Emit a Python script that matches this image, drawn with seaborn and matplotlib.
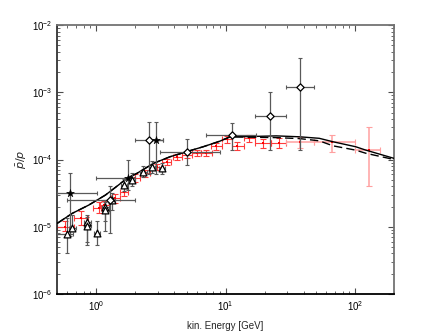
import matplotlib
matplotlib.use("Agg")
import matplotlib.pyplot as plt
import numpy as np
import seaborn as sns

# model curves
model_E = [0.5, 0.654, 0.877, 1.18, 1.49, 1.73, 2.07, 2.77, 3.72, 5.0, 6.71, 9.05,
           10.8, 15.3, 24.6, 37.2, 52.8, 67.4, 101, 121, 200]
solid_v = [1.12e-5, 1.58e-5, 2.1e-5, 2.96e-5, 4.18e-5, 5.25e-5, 6.24e-5, 8.77e-5, 1.1e-4,
           1.31e-4, 1.55e-4, 1.88e-4, 2.18e-4, 2.2e-4, 2.25e-4, 2.18e-4, 2.07e-4, 1.84e-4,
           1.55e-4, 1.38e-4, 1.04e-4]
dashed_v = [1.12e-5, 1.58e-5, 2.1e-5, 2.96e-5, 4.18e-5, 5.25e-5, 6.24e-5, 8.77e-5, 1.1e-4,
            1.31e-4, 1.55e-4, 1.88e-4, 2.18e-4, 2.15e-4, 2.12e-4, 2.05e-4, 1.9e-4, 1.6e-4,
            1.38e-4, 1.24e-4, 1.0e-4]

# red data set
red_E = [0.58, 0.76, 1.05, 1.15, 1.41, 1.63, 2.0, 2.39, 2.94, 3.52, 4.2, 5.0, 6.0, 7.1,
         8.4, 10.2, 12.3, 15.2, 19.3, 25.8, 37.7, 66.5, 129]
red_v = [1.0e-5, 1.34e-5, 1.9e-5, 2.1e-5, 2.65e-5, 3.3e-5, 5.25e-5, 6.2e-5, 7.8e-5, 9.3e-5,
         1.08e-4, 1.18e-4, 1.24e-4, 1.24e-4, 1.58e-4, 2.0e-4, 1.6e-4, 2.07e-4, 1.75e-4,
         1.75e-4, 1.83e-4, 1.8e-4, 1.37e-4]
red_Elo = [0.50, 0.68, 0.95, 1.08, 1.30, 1.52, 1.85, 2.2, 2.7, 3.25, 3.9, 4.6, 5.5, 6.5,
           7.7, 9.3, 11.2, 13.8, 17.0, 22.5, 29, 48, 99]
red_Ehi = [0.68, 0.86, 1.10, 1.25, 1.52, 1.75, 2.2, 2.6, 3.2, 3.8, 4.6, 5.5, 6.5, 7.8,
           9.3, 11.2, 13.8, 17.0, 22.5, 29, 48, 99, 155]
red_vlo = [0.85e-5, 1.06e-5, 1.6e-5, 1.8e-5, 2.25e-5, 2.85e-5, 4.6e-5, 5.5e-5, 7.0e-5, 8.4e-5,
           9.7e-5, 1.06e-4, 1.11e-4, 1.11e-4, 1.4e-4, 1.77e-4, 1.4e-4, 1.82e-4, 1.5e-4,
           1.48e-4, 1.5e-4, 1.31e-4, 4.0e-5]
red_vhi = [1.2e-5, 1.7e-5, 2.3e-5, 2.45e-5, 3.1e-5, 3.85e-5, 6.0e-5, 7.0e-5, 8.7e-5, 1.03e-4,
           1.2e-4, 1.31e-4, 1.38e-4, 1.38e-4, 1.78e-4, 2.25e-4, 1.82e-4, 2.34e-4, 2.03e-4,
           2.06e-4, 2.2e-4, 2.31e-4, 3.1e-4]

# triangles
tri_E = [0.598, 0.654, 0.853, 0.853, 1.02, 1.18, 1.18, 1.33, 1.63, 1.9, 2.32, 2.7, 3.22]
tri_v = [7.8e-6, 9.5e-6, 1.17e-5, 1.02e-5, 8.2e-6, 2.0e-5, 1.8e-5, 2.5e-5, 4.2e-5, 4.95e-5,
         6.6e-5, 7.8e-5, 7.4e-5]
tri_Elo = [0.5, 0.62, 0.80, 0.80, 0.97, 1.12, 1.12, 1.27, 1.55, 1.8, 2.2, 2.55, 3.05]
tri_Ehi = [0.66, 0.70, 0.92, 0.92, 1.08, 1.25, 1.25, 1.40, 1.72, 2.0, 2.45, 2.85, 3.4]
tri_vlo = [4.1e-6, 8.5e-6, 5.3e-6, 6.0e-6, 5.3e-6, 8.5e-6, 1.2e-5, 1.8e-5, 3.4e-5, 4.0e-5,
           5.5e-5, 6.4e-5, 6.0e-5]
tri_vhi = [1.35e-5, 1.5e-5, 1.5e-5, 1.4e-5, 1.2e-5, 2.35e-5, 2.5e-5, 3.2e-5, 5.2e-5, 6.2e-5,
           8.0e-5, 9.5e-5, 9.0e-5]

# diamonds
dia_E = [1.29, 2.58, 5.0, 11.1, 22.2, 37.3]
dia_v = [2.5e-5, 1.95e-4, 1.3e-4, 2.31e-4, 4.43e-4, 1.21e-3]
dia_Elo = [0.6, 2.0, 3.1, 7.1, 16.8, 29]
dia_Ehi = [2.0, 3.3, 9.0, 17.3, 29, 48]
dia_vlo = [8e-6, 6e-5, 8.3e-5, 1.4e-4, 1.4e-4, 1.4e-4]
dia_vhi = [4e-5, 3.6e-4, 2.0e-4, 3.5e-4, 1.0e-3, 3.2e-3]

# stars
star_E = [0.624, 1.75, 2.91]
star_v = [3.14e-5, 5.3e-5, 1.95e-4]
star_Elo = [0.5, 1.0, 2.6]
star_Ehi = [1.02, 2.0, 3.3]
star_vlo = [7.2e-6, 3.5e-5, 6e-5]
star_vhi = [6.4e-5, 1.0e-4, 3.6e-4]

sns.set_style("ticks")
plt.rcParams["font.family"] = ["Liberation Sans", "DejaVu Sans"]
plt.rcParams["font.size"] = 7
plt.rcParams["mathtext.fontset"] = "dejavusans"

fig = plt.figure(figsize=(4.36, 3.31), dpi=100)
ax = fig.add_axes([0.131, 0.112, 0.773, 0.812])
ax.set_xscale("log")
ax.set_yscale("log")


def errs(x, lo, hi):
    x = np.array(x)
    return np.array([x - np.array(lo), np.array(hi) - x])


# red data (last points drawn lighter)
red_xerr = errs(red_E, red_Elo, red_Ehi)
red_yerr = errs(red_v, red_vlo, red_vhi)
k = len(red_E) - 3
ax.errorbar(red_E[:k], red_v[:k], xerr=red_xerr[:, :k], yerr=red_yerr[:, :k],
            fmt="none", ecolor="#ff3b3b", elinewidth=0.8, capsize=2, capthick=0.8, zorder=2)
ax.errorbar(red_E[k:], red_v[k:], xerr=red_xerr[:, k:], yerr=red_yerr[:, k:],
            fmt="none", ecolor="#ffa0a0", elinewidth=1.1, capsize=2, capthick=0.8, zorder=2)
sns.scatterplot(x=red_E, y=red_v, ax=ax, color="red", marker="s", s=3, linewidth=0, zorder=3)

# model lines
sns.lineplot(x=model_E, y=solid_v, ax=ax, color="black", linewidth=1.0, zorder=4)
sns.lineplot(x=model_E, y=dashed_v, ax=ax, color="black", linewidth=1.0, zorder=4,
             linestyle=(0, (6, 3)))

# black data sets
for E, v, elo, ehi, vlo, vhi in [
    (tri_E, tri_v, tri_Elo, tri_Ehi, tri_vlo, tri_vhi),
    (dia_E, dia_v, dia_Elo, dia_Ehi, dia_vlo, dia_vhi),
    (star_E, star_v, star_Elo, star_Ehi, star_vlo, star_vhi),
]:
    ax.errorbar(E, v, xerr=errs(E, elo, ehi), yerr=errs(v, vlo, vhi), fmt="none",
                ecolor="0.35", elinewidth=0.9, capsize=1.5, capthick=0.8, zorder=5)

sns.scatterplot(x=tri_E, y=tri_v, ax=ax, marker="^", s=24, facecolor="white",
                edgecolor="black", linewidth=0.9, zorder=6)
sns.scatterplot(x=dia_E, y=dia_v, ax=ax, marker="D", s=14, facecolor="white",
                edgecolor="black", linewidth=0.9, zorder=6)
sns.scatterplot(x=star_E, y=star_v, ax=ax, marker="*", s=36, color="black",
                edgecolor="black", linewidth=0.3, zorder=6)

ax.set_xlim(0.5, 200)
ax.set_ylim(1e-6, 1e-2)
ax.set_xlabel("kin. Energy [GeV]", fontsize=7, labelpad=6)
ax.set_ylabel(r"$\bar{p}/p$", fontsize=8, labelpad=2)

ax.tick_params(which="both", direction="in", top=True, right=True, colors="0.3",
               labelcolor="black", labelsize=7)
ax.tick_params(which="major", length=4, width=0.8)
ax.tick_params(which="minor", length=2, width=0.6)
for s in ax.spines.values():
    s.set_color("0.45")
    s.set_linewidth(1.3)
ax.spines["bottom"].set_color("black")
ax.spines["left"].set_color("0.2")

fig.savefig("out.png", dpi=100)
